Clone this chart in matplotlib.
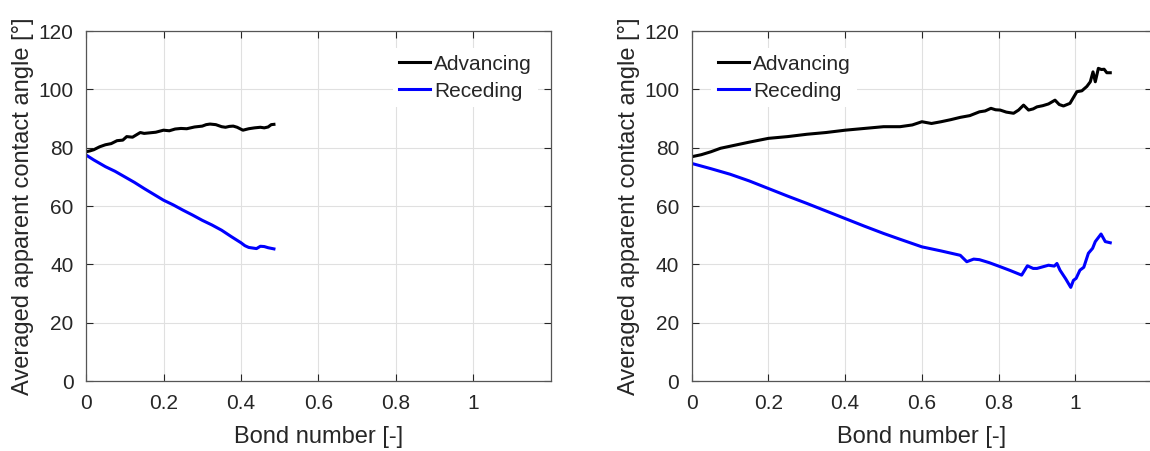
import matplotlib.pyplot as plt

plt.rcParams['font.family'] = ['Liberation Sans', 'DejaVu Sans']

# ======= left: Bond number sweep up to ~0.49 =======
bo_adv_l = [0, 0.01, 0.02, 0.035, 0.05, 0.065, 0.08, 0.095, 0.105, 0.12, 0.13, 0.14, 0.15,
            0.165, 0.18, 0.2, 0.215, 0.23, 0.245, 0.26, 0.28, 0.3, 0.31, 0.32, 0.335,
            0.35, 0.36, 0.37, 0.38, 0.39, 0.405, 0.42, 0.435, 0.45, 0.46, 0.47, 0.478, 0.485]
adv_l = [78.6, 78.9, 79.3, 80.3, 81.0, 81.4, 82.4, 82.6, 83.8, 83.6, 84.4, 85.2, 84.9,
         85.1, 85.3, 86.0, 85.8, 86.4, 86.6, 86.5, 87.1, 87.4, 87.9, 88.1, 87.9,
         87.2, 87.0, 87.3, 87.4, 87.0, 86.0, 86.5, 86.8, 87.0, 86.8, 87.1, 87.9, 88.0]

bo_rec_l = [0, 0.02, 0.05, 0.075, 0.1, 0.125, 0.15, 0.175, 0.2, 0.225, 0.25, 0.275, 0.3,
            0.325, 0.35, 0.375, 0.4, 0.41, 0.42, 0.43, 0.44, 0.45, 0.46, 0.47, 0.485]
rec_l = [77.5, 75.8, 73.5, 71.9, 70.0, 68.1, 66.0, 64.0, 62.0, 60.4, 58.6, 56.9, 55.1,
         53.5, 51.7, 49.5, 47.4, 46.4, 45.8, 45.6, 45.4, 46.2, 46.1, 45.7, 45.3]

# ======= right: Bond number sweep up to ~1.09 =======
bo_adv_r = [0, 0.025, 0.05, 0.075, 0.1, 0.15, 0.2, 0.25, 0.3, 0.35, 0.4, 0.45, 0.5, 0.543,
            0.575, 0.6, 0.625, 0.65, 0.675, 0.7, 0.725, 0.75, 0.765, 0.78, 0.792, 0.804,
            0.82, 0.839, 0.852, 0.865, 0.878, 0.89, 0.9, 0.915, 0.93, 0.947, 0.958, 0.969,
            0.986, 1.004, 1.017, 1.03, 1.039, 1.046, 1.052, 1.06, 1.068, 1.075, 1.082, 1.091]
adv_r = [76.9, 77.6, 78.6, 79.8, 80.5, 81.9, 83.2, 83.8, 84.6, 85.2, 86.0, 86.6, 87.2, 87.2,
         87.8, 88.9, 88.3, 88.9, 89.6, 90.4, 91.0, 92.3, 92.6, 93.5, 93.0, 92.9,
         92.2, 91.8, 92.9, 94.6, 92.9, 93.3, 94.0, 94.4, 95.0, 96.3, 94.8, 94.3,
         95.2, 99.2, 99.5, 101.0, 102.6, 106.0, 102.6, 107.2, 106.8, 106.9, 105.7, 105.7]

bo_rec_r = [0, 0.05, 0.1, 0.15, 0.2, 0.25, 0.3, 0.35, 0.4, 0.45, 0.5, 0.543, 0.6, 0.65,
            0.7, 0.717, 0.735, 0.75, 0.775, 0.804, 0.83, 0.86, 0.875, 0.89, 0.9, 0.93,
            0.945, 0.952, 0.96, 0.975, 0.988, 0.995, 1.002, 1.012, 1.022, 1.034, 1.045,
            1.052, 1.067, 1.078, 1.091]
rec_r = [74.6, 72.8, 70.9, 68.6, 66.0, 63.4, 60.9, 58.3, 55.7, 53.1, 50.6, 48.6, 46.0, 44.6,
         43.1, 40.9, 41.8, 41.6, 40.6, 39.2, 37.9, 36.3, 39.5, 38.6, 38.6, 39.7,
         39.4, 40.3, 38.0, 35.0, 32.1, 34.5, 35.2, 38.0, 39.0, 43.8, 45.5,
         47.8, 50.4, 47.8, 47.4]

xticks = [0, 0.2, 0.4, 0.6, 0.8, 1]
xticklabels = ['0', '0.2', '0.4', '0.6', '0.8', '1']
yticks = [0, 20, 40, 60, 80, 100, 120]

txt = '#262626'
fig = plt.figure(figsize=(11.5, 4.51), dpi=100)
ax1 = fig.add_axes([0.0748, 0.1552, 0.4043, 0.776])
ax2 = fig.add_axes([0.6015, 0.1552, 0.4003, 0.776])

panels = [(ax1, bo_adv_l, adv_l, bo_rec_l, rec_l, 'upper right', (0.995, 0.98)),
          (ax2, bo_adv_r, adv_r, bo_rec_r, rec_r, 'upper left', (0.02, 0.98))]

for ax, xa, ya, xr, yr, loc, anchor in panels:
    ax.plot(xa, ya, color='black', lw=2.2, label='Advancing')
    ax.plot(xr, yr, color='blue', lw=2.2, label='Receding')
    ax.set_xlim(0, 1.2)
    ax.set_ylim(0, 120)
    ax.set_xticks(xticks)
    ax.set_xticklabels(xticklabels)
    ax.set_yticks(yticks)
    ax.grid(True, color='#e0e0e0', lw=0.8)
    ax.set_axisbelow(True)
    ax.tick_params(direction='in', top=True, right=True, labelsize=15,
                   colors=txt, length=5, width=0.8, pad=9)
    for s in ax.spines.values():
        s.set_color('#555555')
        s.set_linewidth(0.9)
    ax.set_xlabel('Bond number [-]', fontsize=17, color=txt, labelpad=10)
    ax.set_ylabel('Averaged apparent contact angle [°]', fontsize=17, color=txt,
                  labelpad=3)
    leg = ax.legend(loc=loc, bbox_to_anchor=anchor, fontsize=15, frameon=True,
                    handlelength=1.5, handletextpad=0.2, borderpad=0.3,
                    labelspacing=0.38, fancybox=False)
    leg.get_frame().set_edgecolor('none')
    leg.get_frame().set_facecolor('white')
    leg.get_frame().set_alpha(1)
    for t in leg.get_texts():
        t.set_color(txt)

plt.savefig('out.png', dpi=100)
